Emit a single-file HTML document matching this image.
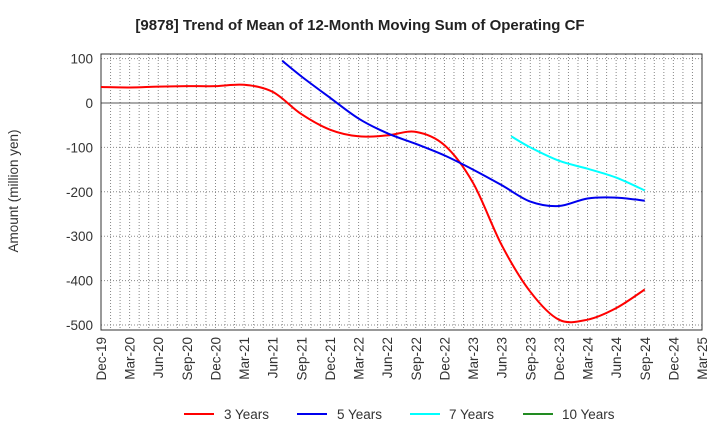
<!DOCTYPE html>
<html><head><meta charset="utf-8"><style>
body{margin:0;background:#fff;font-family:"Liberation Sans",sans-serif}
</style></head><body>
<svg id="chart" width="720" height="440" xmlns="http://www.w3.org/2000/svg" font-family="Liberation Sans, sans-serif">
<text x="360" y="30" text-anchor="middle" font-size="15" font-weight="bold" fill="#222">[9878]  Trend of Mean of 12-Month Moving Sum of Operating CF</text>
<text transform="translate(18,191) rotate(-90)" text-anchor="middle" font-size="13.5" fill="#333">Amount (million yen)</text>
<g id="grid"></g><g id="axes"></g><g id="series"></g>
<g font-size="13.5" fill="#333">
<line x1="184" y1="414" x2="214" y2="414" stroke="#ff0000" stroke-width="2"/><text x="224" y="419">3 Years</text>
<line x1="297" y1="414" x2="327" y2="414" stroke="#0000ee" stroke-width="2"/><text x="337" y="419">5 Years</text>
<line x1="410" y1="414" x2="440" y2="414" stroke="#00ffff" stroke-width="2"/><text x="449" y="419">7 Years</text>
<line x1="523" y1="414" x2="553" y2="414" stroke="#228b22" stroke-width="2"/><text x="562" y="419">10 Years</text>
</g>
</svg>
<script>
const xLabels=["Dec-19","Mar-20","Jun-20","Sep-20","Dec-20","Mar-21","Jun-21","Sep-21","Dec-21","Mar-22","Jun-22","Sep-22","Dec-22","Mar-23","Jun-23","Sep-23","Dec-23","Mar-24","Jun-24","Sep-24","Dec-24","Mar-25"];
const yTicks=[100,0,-100,-200,-300,-400,-500];
const red3M=[0,3,6,9,12,15,18,21,24,27,30,33,36,39,42,45,48,51,54,57];
const red3V=[36,35,37,38,38,41,25,-25,-60,-75,-73,-65,-95,-180,-320,-425,-488,-488,-462,-420];
const blue5M=[19,21,24,27,30,33,36,39,42,45,48,51,54,57];
const blue5V=[95,60,12,-35,-68,-92,-118,-150,-185,-222,-232,-215,-213,-220];
const cyan7M=[43,45,48,51,54,57];
const cyan7V=[-75,-100,-130,-148,-168,-197];
const green10M=[];
const green10V=[];
const L=101,R=702,T=54,B=330;
const x=m=>L+(R-L)*m/63;
const y=v=>103-v*0.444;
const NS="http://www.w3.org/2000/svg";
function mk(tag,attrs,parent){const e=document.createElementNS(NS,tag);for(const k in attrs)e.setAttribute(k,attrs[k]);parent.appendChild(e);return e;}
const grid=document.getElementById('grid'),axes=document.getElementById('axes'),ser=document.getElementById('series');
for(let m=1;m<63;m++){const gl=mk('line',{x1:x(m),x2:x(m),y1:T,y2:B,stroke:'#888','stroke-dasharray':'1,2','stroke-width':1},grid);

}
yTicks.forEach(v=>{const gl=mk('line',{x1:L,x2:R,y1:y(v),y2:y(v),stroke:v===0?'#555':'#888','stroke-dasharray':v===0?'none':'1,2','stroke-width':1},grid);


const t=mk('text',{x:L-8,y:y(v)+5,'text-anchor':'end','font-size':13.5,fill:'#333'},axes);t.textContent=v;

});
const fr=mk('rect',{x:L,y:T,width:R-L,height:B-T,fill:'none',stroke:'#333','stroke-width':1},axes);


xLabels.forEach((s,i)=>{const xx=x(i*3);const t=mk('text',{transform:`translate(${xx+5},${B+7}) rotate(-90)`,'text-anchor':'end','font-size':13.5,fill:'#333'},axes);t.textContent=s;

});
function path(ms,vs){const p=ms.map((m,i)=>[x(m),y(vs[i])]);if(p.length<2)return'';let d=`M${p[0][0]},${p[0][1]}`;
for(let i=0;i<p.length-1;i++){const p0=p[i-1]||p[i],p1=p[i],p2=p[i+1],p3=p[i+2]||p2;
d+=` C${p1[0]+(p2[0]-p0[0])/6},${p1[1]+(p2[1]-p0[1])/6} ${p2[0]-(p3[0]-p1[0])/6},${p2[1]-(p3[1]-p1[1])/6} ${p2[0]},${p2[1]}`;}return d;}
[[red3M,red3V,'#ff0000','line-3-years'],[blue5M,blue5V,'#0000ee','line-5-years'],[cyan7M,cyan7V,'#00ffff','line-7-years'],[green10M,green10V,'#228b22','line-10-years']].forEach(([m,v,c,n])=>{
const d=path(m,v);if(!d)return;const e=mk('path',{d:d,fill:'none',stroke:c,'stroke-width':2},ser);

});
</script>
</body></html>
